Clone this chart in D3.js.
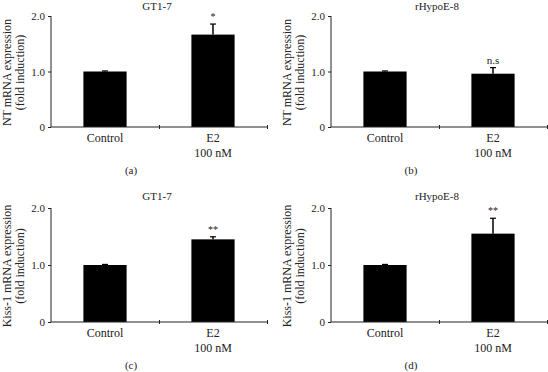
<!DOCTYPE html>
<html>
<head>
<meta charset="utf-8">
<script src="https://cdnjs.cloudflare.com/ajax/libs/d3/7.8.5/d3.min.js"></script>
<style>
  body { margin: 0; background: #fff; }
  svg { display: block; }
  text { font-family: "Liberation Serif", "Times New Roman", serif; fill: #222; }
  .axis path, .axis line { stroke: #222; }
</style>
</head>
<body>
<div id="chart-area"></div>
<script>
// data
var categories = ["Control", "E2"];
var subLabels = ["", "100 nM"];
var titles = ["GT1-7", "rHypoE-8", "GT1-7", "rHypoE-8"];
var letters = ["(a)", "(b)", "(c)", "(d)"];
var yLabels = ["NT mRNA expression", "NT mRNA expression", "Kiss-1 mRNA expression", "Kiss-1 mRNA expression"];
var yLabels2 = ["(fold induction)", "(fold induction)", "(fold induction)", "(fold induction)"];
var means = [[1.0, 1.665], [1.0, 0.96], [1.0, 1.45], [1.0, 1.55]];
var errors = [[0.01, 0.19], [0.01, 0.11], [0.01, 0.045], [0.01, 0.27]];
var signif = ["*", "n.s", "**", "**"];
var yTicks = [0, 1, 2];
var yTickLabels = ["0", "1.0", "2.0"];

var svg = d3.select("#chart-area").append("svg")
  .attr("width", 548)
  .attr("height", 372);

// panel frames (axis x range, y of 0 and of 2.0)
var panels = [
  {x0: 51, x1: 267, yb: 127, yt: 16},
  {x0: 331, x1: 547, yb: 127, yt: 16},
  {x0: 51, x1: 267, yb: 322, yt: 208},
  {x0: 331, x1: 547, yb: 322, yt: 208}
];

panels.forEach(function(p, i) {
  var g = svg.append("g");

  var x = d3.scaleBand()
    .domain(categories)
    .range([p.x0, p.x1])
    .paddingInner(0.6)
    .paddingOuter(0.3);

  var y = d3.scaleLinear()
    .domain([0, 2])
    .range([p.yb, p.yt]);

  var rows = categories.map(function(c, j) {
    return {cat: c, v: means[i][j], e: errors[i][j]};
  });

  // bars
  g.selectAll("rect.bar")
    .data(rows)
    .enter()
    .append("rect")
    .attr("class", "bar")
    .attr("x", function(d) { return x(d.cat); })
    .attr("width", x.bandwidth())
    .attr("y", function(d) { return y(d.v); })
    .attr("height", function(d) { return y(0) - y(d.v); })
    .attr("fill", "#000");

  // error bars (upper half only)
  g.selectAll("line.err")
    .data(rows)
    .enter()
    .append("line")
    .attr("class", "err")
    .attr("x1", function(d) { return x(d.cat) + x.bandwidth() / 2; })
    .attr("x2", function(d) { return x(d.cat) + x.bandwidth() / 2; })
    .attr("y1", function(d) { return y(d.v); })
    .attr("y2", function(d) { return y(d.v + d.e); })
    .attr("stroke", "#000")
    .attr("stroke-width", 1.5);

  g.selectAll("line.cap")
    .data(rows)
    .enter()
    .append("line")
    .attr("class", "cap")
    .attr("x1", function(d) { return x(d.cat) + x.bandwidth() / 2 - 3; })
    .attr("x2", function(d) { return x(d.cat) + x.bandwidth() / 2 + 3; })
    .attr("y1", function(d) { return y(d.v + d.e); })
    .attr("y2", function(d) { return y(d.v + d.e); })
    .attr("stroke", "#000")
    .attr("stroke-width", 1.2);

  // significance mark over E2
  var e2 = rows[1];
  g.append("text")
    .attr("x", x(e2.cat) + x.bandwidth() / 2)
    .attr("y", y(e2.v + e2.e) - 4)
    .attr("text-anchor", "middle")
    .style("font-size", signif[i] == "n.s" ? "11px" : "10px")
    .text(signif[i]);

  // y axis
  var leftaxis = d3.axisLeft(y)
    .tickValues(yTicks)
    .tickSize(3)
    .tickPadding(3)
    .tickFormat(function(d, k) { return yTickLabels[k]; });

  g.append("g")
    .attr("class", "axis")
    .attr("transform", "translate(" + p.x0 + ",0)")
    .call(leftaxis)
    .call(function(s) {
      s.select(".domain").attr("d", "M0," + y(2) + "V" + y(0));
      s.selectAll("text").style("font-size", "11px").attr("fill", "#222");
    });

  // x axis line with small ticks at mid and end
  var bottomaxis = d3.axisBottom(d3.scaleLinear().domain([0, 2]).range([p.x0, p.x1]))
    .tickValues([1, 2])
    .tickSize(3)
    .tickFormat("");

  g.append("g")
    .attr("class", "axis")
    .attr("transform", "translate(0," + y(0) + ")")
    .call(bottomaxis)
    .call(function(s) {
      s.select(".domain").attr("d", "M" + p.x0 + ",0H" + p.x1);
      s.selectAll(".tick line").attr("y1", -2).attr("y2", 2);
    });

  // category labels
  g.selectAll("text.cat")
    .data(rows)
    .enter()
    .append("text")
    .attr("class", "cat")
    .attr("x", function(d) { return x(d.cat) + x.bandwidth() / 2; })
    .attr("y", y(0) + 15)
    .attr("text-anchor", "middle")
    .style("font-size", "12px")
    .text(function(d) { return d.cat; });

  g.selectAll("text.sub")
    .data(subLabels)
    .enter()
    .append("text")
    .attr("class", "sub")
    .attr("x", function(d, j) { return x(categories[j]) + x.bandwidth() / 2; })
    .attr("y", y(0) + 30)
    .attr("text-anchor", "middle")
    .style("font-size", "12px")
    .text(function(d) { return d; });

  // title
  g.append("text")
    .attr("x", p.x0 + 106)
    .attr("y", Math.max(p.yt - 8, 10))
    .attr("text-anchor", "middle")
    .style("font-size", "11px")
    .text(titles[i]);

  // panel letter
  g.append("text")
    .attr("x", p.x0 + 80)
    .attr("y", y(0) + 47)
    .attr("text-anchor", "middle")
    .style("font-size", "11px")
    .text(letters[i]);

  // y label (two lines)
  var yc = (y(0) + y(2)) / 2 + 1;
  g.append("text")
    .attr("transform", "translate(" + (p.x0 - 40) + "," + yc + ") rotate(-90)")
    .attr("text-anchor", "middle")
    .style("font-size", "12px")
    .text(yLabels[i]);

  g.append("text")
    .attr("transform", "translate(" + (p.x0 - 27) + "," + yc + ") rotate(-90)")
    .attr("text-anchor", "middle")
    .style("font-size", "12px")
    .text(yLabels2[i]);
});
</script>
</body>
</html>
